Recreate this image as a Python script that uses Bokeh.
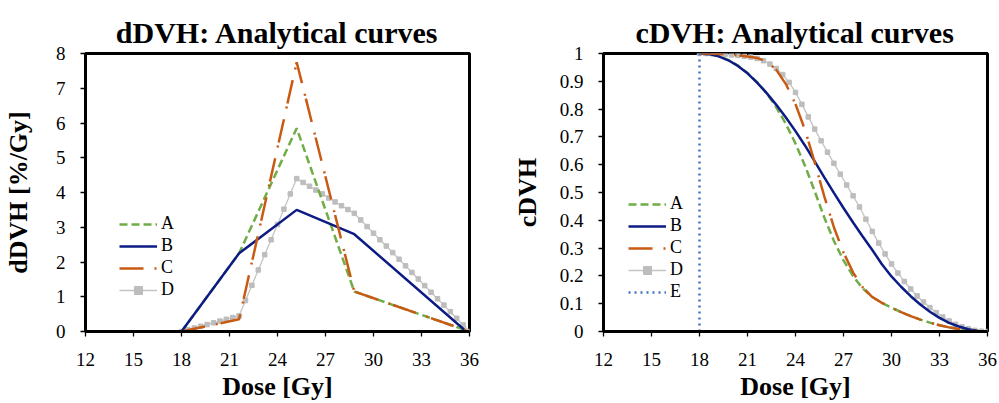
from bokeh.plotting import figure
from bokeh.models import (Range1d, FixedTicker, Legend, LegendItem, CustomJSTickFormatter,
                          BoxAnnotation)
from bokeh.layouts import row
from bokeh.embed import file_html
from bokeh.resources import INLINE

# ---------------- data ----------------
titles = ["dDVH: Analytical curves", "cDVH: Analytical curves"]
x_ticks = [12, 15, 18, 21, 24, 27, 30, 33, 36]
ddvh_y_ticks = [0, 1, 2, 3, 4, 5, 6, 7, 8]
cdvh_y_ticks = [0, 0.1, 0.2, 0.3, 0.4, 0.5, 0.6, 0.7, 0.8, 0.9, 1.0]

series_names = ["A", "B", "C", "D", "E"]

# dDVH (%/Gy)
ddvh_a_x = [18, 21.6, 25.2, 28.8, 36]
ddvh_a_y = [0, 2.25, 5.85, 1.15, 0]
ddvh_b_x = [18, 21.6, 25.2, 28.8, 35.8]
ddvh_b_y = [0, 2.25, 3.5, 2.8, 0]
ddvh_c_x = [18, 21.6, 25.2, 28.8, 36]
ddvh_c_y = [0, 0.35, 7.75, 1.15, 0]
ddvh_d_x = [18.0, 18.4, 18.8, 19.2, 19.6, 20.0, 20.4, 20.8, 21.2, 21.6,
            22.0, 22.4, 22.8, 23.2, 23.6, 24.0, 24.4, 24.8, 25.2,
            25.6, 26.0, 26.4, 26.8, 27.2, 27.6, 28.0, 28.4, 28.8,
            29.2, 29.6, 30.0, 30.4, 30.8, 31.2, 31.6, 32.0, 32.4, 32.8,
            33.2, 33.6, 34.0, 34.4, 34.8, 35.2, 35.6, 36.0]
ddvh_d_y = [0, 0.05, 0.10, 0.15, 0.20, 0.25, 0.30, 0.35, 0.40, 0.45,
            0.89, 1.33, 1.77, 2.21, 2.64, 3.08, 3.52, 3.96, 4.40,
            4.29, 4.18, 4.07, 3.96, 3.84, 3.73, 3.62, 3.51, 3.40,
            3.21, 3.02, 2.83, 2.64, 2.46, 2.27, 2.08, 1.89, 1.70, 1.51,
            1.32, 1.13, 0.94, 0.76, 0.57, 0.38, 0.19, 0]

# cDVH (fraction)
cdvh_x = [18.0, 18.6, 19.2, 19.8, 20.4, 21.0, 21.6, 22.2, 22.8, 23.4, 24.0,
          24.6, 25.2, 25.8, 26.4, 27.0, 27.6, 28.2, 28.8, 29.4, 30.0, 30.6,
          31.2, 31.8, 32.4, 33.0, 33.6, 34.2, 34.8, 35.4, 36.0]
cdvh_a = [1.0, 0.9978, 0.9905, 0.9767, 0.9565, 0.9300, 0.8972, 0.8566, 0.8066,
          0.7464, 0.6760, 0.5954, 0.5047, 0.4100, 0.3260, 0.2560, 0.1990, 0.1550,
          0.1240, 0.1031, 0.0856, 0.0697, 0.0555, 0.0429, 0.0319, 0.0226, 0.0148,
          0.0087, 0.0043, 0.0014, 0.0]
cdvh_b = [1.0, 0.9977, 0.9898, 0.9756, 0.9553, 0.9286, 0.8955, 0.8574, 0.8153,
          0.7698, 0.7208, 0.6683, 0.6122, 0.5547, 0.4985, 0.4443, 0.3921, 0.3418,
          0.2934, 0.2420, 0.1980, 0.1610, 0.1270, 0.0970, 0.0710, 0.0490, 0.0310,
          0.0180, 0.0080, 0.0020, 0.0]
cdvh_c = [1.0, 0.9996, 0.9985, 0.9964, 0.9934, 0.9892, 0.9840, 0.9713, 0.9410,
          0.8900, 0.8180, 0.7240, 0.6080, 0.4860, 0.3750, 0.2840, 0.2120, 0.1590,
          0.1240, 0.1031, 0.0856, 0.0697, 0.0555, 0.0429, 0.0319, 0.0226, 0.0148,
          0.0087, 0.0043, 0.0014, 0.0]
cdvh_d_x = ddvh_d_x
cdvh_d = [1.000, 1.000, 0.999, 0.998, 0.997, 0.995, 0.993, 0.990, 0.987, 0.982,
          0.974, 0.962, 0.946, 0.924, 0.896, 0.860, 0.817, 0.772, 0.728,
          0.686, 0.645, 0.605, 0.566, 0.527, 0.488, 0.448, 0.404, 0.360,
          0.318, 0.279, 0.243, 0.210, 0.180, 0.153, 0.128, 0.106, 0.086, 0.068,
          0.052, 0.038, 0.026, 0.017, 0.010, 0.004, 0.001, 0.000]
cdvh_e_x = [18, 18, 36]
cdvh_e = [1, 0, 0]

# ---------------- styles ----------------
FONT = "Liberation Serif"
GREEN = "#70AD47"
NAVY = "#0C1C84"
ORANGE = "#C85A14"
GRAY = "#C4C4C4"
MARK = "#BDBDBD"
BLUE = "#4472C4"


def make_fig(title, y_end, y_ticks, y_label, width, bl, br):
    p = figure(width=width, height=403, x_range=Range1d(12, 36), y_range=Range1d(0, y_end),
               output_backend="svg", toolbar_location=None, title=title,
               min_border_left=bl, min_border_right=br, min_border_top=53, min_border_bottom=72)
    p.title.text_font = FONT
    p.title.text_font_style = "bold"
    p.title.text_font_size = "30px"
    p.title.align = "center"
    p.title.vertical_align = "top"
    p.title.text_line_height = 0.55
    p.title.text_color = "black"
    p.title.standoff = 6
    p.grid.visible = False
    p.outline_line_color = "black"
    p.outline_line_width = 3
    p.background_fill_color = "white"
    p.border_fill_color = "white"
    p.axis.axis_line_color = "black"
    p.axis.axis_line_width = 3
    p.axis.major_tick_in = 0
    p.axis.major_tick_out = 5
    p.axis.major_tick_line_width = 1.3
    p.axis.major_tick_line_color = "black"
    p.axis.minor_tick_line_color = None
    p.axis.major_label_text_font = FONT
    p.axis.major_label_text_font_size = "19px"
    p.axis.major_label_text_color = "black"
    p.axis.major_label_standoff = 15
    p.axis.axis_label_text_font = FONT
    p.axis.axis_label_text_font_style = "bold"
    p.axis.axis_label_text_font_size = "26px"
    p.axis.axis_label_text_color = "black"
    p.xaxis.major_label_standoff = 16
    p.xaxis.ticker = FixedTicker(ticks=x_ticks)
    p.yaxis.ticker = FixedTicker(ticks=y_ticks)
    p.xaxis.axis_label = "Dose [Gy]"
    p.xaxis.axis_label_standoff = 3
    p.yaxis.axis_label = y_label
    p.add_layout(BoxAnnotation(fill_alpha=0, line_color="black", line_width=3,
                               line_alpha=1, level="underlay"))
    return p


# ---------------- dDVH ----------------
p1 = make_fig(titles[0], 8, ddvh_y_ticks, "dDVH [%/Gy]", 500, 85, 31)
p1.yaxis.axis_label_standoff = 20

d1_line = p1.line(ddvh_d_x, ddvh_d_y, line_color=GRAY, line_width=1.3)
d1_pts = p1.scatter(ddvh_d_x, ddvh_d_y, marker="square", size=4.5, fill_color=MARK,
                    line_color=MARK)
a1 = p1.line(ddvh_a_x, ddvh_a_y, line_color=GREEN, line_width=2.5, line_dash="8 4")
b1 = p1.line(ddvh_b_x, ddvh_b_y, line_color=NAVY, line_width=2.5)
c1 = p1.line(ddvh_c_x, ddvh_c_y, line_color=ORANGE, line_width=2.5, line_dash="24 11 2 3")

leg1 = Legend(items=[LegendItem(label=series_names[0], renderers=[a1]),
                     LegendItem(label=series_names[1], renderers=[b1]),
                     LegendItem(label=series_names[2], renderers=[c1]),
                     LegendItem(label=series_names[3], renderers=[d1_line, d1_pts])],
              location=(34, 31))

# ---------------- cDVH ----------------
p2 = make_fig(titles[1], 1, cdvh_y_ticks, "cDVH", 498, 103, 11)
p2.yaxis.formatter = CustomJSTickFormatter(code="return String(Math.round(tick*10)/10);")
p2.yaxis.axis_label_standoff = 15

d2_line = p2.line(cdvh_d_x, cdvh_d, line_color=GRAY, line_width=1.3)
d2_pts = p2.scatter(cdvh_d_x, cdvh_d, marker="square", size=4.5, fill_color=MARK,
                    line_color=MARK)
a2 = p2.line(cdvh_x, cdvh_a, line_color=GREEN, line_width=2.5, line_dash="8 4")
b2 = p2.line(cdvh_x, cdvh_b, line_color=NAVY, line_width=2.5)
c2 = p2.line(cdvh_x, cdvh_c, line_color=ORANGE, line_width=2.5, line_dash="24 11 2 3")
e2 = p2.line(cdvh_e_x, cdvh_e, line_color=BLUE, line_width=2.5, line_dash="2 4")

leg2 = Legend(items=[LegendItem(label=series_names[0], renderers=[a2]),
                     LegendItem(label=series_names[1], renderers=[b2]),
                     LegendItem(label=series_names[2], renderers=[c2]),
                     LegendItem(label=series_names[3], renderers=[d2_line, d2_pts]),
                     LegendItem(label=series_names[4], renderers=[e2])],
              location=(25, 29))

for leg, p in ((leg1, p1), (leg2, p2)):
    leg.background_fill_alpha = 0
    leg.border_line_alpha = 0
    leg.padding = 0
    leg.margin = 0
    leg.spacing = 1
    leg.glyph_width = 38
    leg.glyph_height = 20
    leg.label_height = 20
    leg.label_standoff = 4
    leg.label_text_font = FONT
    leg.label_text_font_size = "18px"
    leg.label_text_color = "black"
    p.add_layout(leg)

layout = row(p1, p2)
open("out.html", "w").write(file_html(layout, INLINE))
